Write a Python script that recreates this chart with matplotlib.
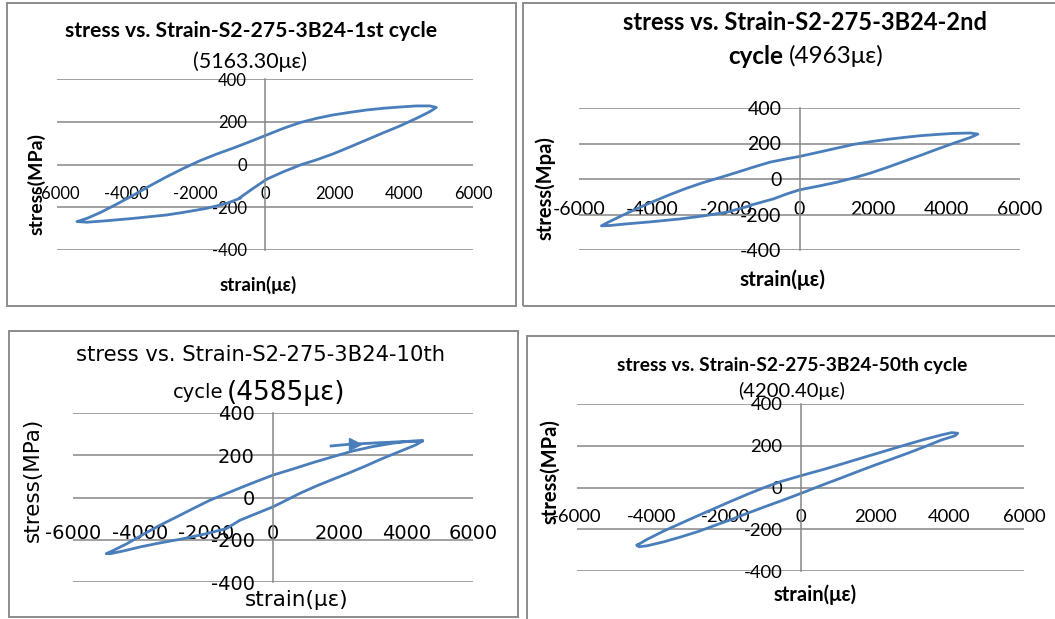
import matplotlib
matplotlib.use("Agg")
import matplotlib.pyplot as plt
from matplotlib.patches import Rectangle

plt.rcParams["axes.unicode_minus"] = False

x_ticks = [-6000, -4000, -2000, 0, 2000, 4000, 6000]
y_ticks = [-400, -200, 0, 200, 400]

# 1st cycle
strain_1 = [-720, -1104, -1680, -2352, -2832, -3792, -4560, -5136, -5424, -5136, -4752, -4272,
            -3792, -3312, -2832, -2352, -1872, -1392, -912, -432, 48, 528, 1008, 1488, 1968,
            2448, 2928, 3408, 3888, 4368, 4752, 4944, 4752, 4368, 3888, 3408, 2928, 2448,
            1968, 1488, 1056, 528, 48, -336, -720]
stress_1 = [-158, -182, -205, -224, -236, -252, -263, -270, -267, -252, -225, -185,
            -143, -99, -57, -18, 18, 49, 77, 107, 138, 169, 196, 216, 232,
            244, 255, 263, 269, 274, 274, 267, 247, 216, 180, 148, 115, 82,
            50, 22, 0, -34, -69, -111, -155]

# 2nd cycle
strain_2 = [-1345, -1982, -2618, -3254, -3981, -4709, -5163, -5390, -5209, -4890, -4436, -3981,
            -3527, -3072, -2618, -2164, -1709, -1254, -800, -345, 0, 564, 1018, 1473, 1927,
            2382, 2836, 3291, 3745, 4200, 4654, 4854, 4654, 4200, 3745, 3291, 2836, 2382,
            1927, 1473, 1018, 564, 0, -345, -709, -1073, -1345]
stress_2 = [-151, -187, -208, -225, -240, -253, -262, -264, -244, -212, -168, -127,
            -88, -52, -20, 8, 37, 67, 95, 114, 127, 153, 174, 195, 210,
            223, 234, 244, 251, 257, 259, 253, 234, 202, 168, 133, 99, 65,
            33, 6, -18, -38, -61, -84, -112, -133, -148]

# 10th cycle (starts with a short stroke carrying an arrow head)
strain_3 = [1744, 2292, 3289, 4087, 4485, 4286, 3788, 3289, 2791, 2292, 1794, 1296, 797,
            299, 0, -498, -997, -1395, -1993, -2691, -3389, -3987, -4485, -4884, -5003,
            -4784, -4385, -3887, -3389, -2891, -2392, -1894, -1395, -897, -399, 0, 598,
            1196, 1794, 2392, 2990, 3588, 4087, 4485]
stress_3 = [244, 252, 260, 266, 268, 249, 217, 185, 150, 117, 86, 54, 19,
            -21, -44, -76, -108, -147, -171, -195, -215, -234, -253, -266, -266,
            -250, -219, -174, -131, -92, -52, -13, 19, 51, 82, 106, 135,
            165, 193, 220, 241, 257, 266, 268]
arrow_strain = [2450]
arrow_stress = [254]

# 50th cycle
strain_4 = [-4383, -4114, -3665, -3216, -2766, -2317, -1868, -1419, -970, -521, 0, 647,
            1096, 1545, 1994, 2443, 2892, 3341, 3790, 4060, 4222, 4150, 3790, 3341, 2892,
            2443, 1994, 1545, 1096, 647, 0, -521, -970, -1419, -1868, -2317, -2766, -3216,
            -3665, -4114, -4338, -4383]
stress_4 = [-276, -248, -208, -172, -136, -101, -66, -32, 0, 29, 56, 88,
            112, 136, 160, 184, 208, 231, 252, 263, 260, 248, 228, 196, 165,
            136, 107, 77, 46, 16, -29, -64, -93, -123, -154, -183, -212, -237,
            -260, -279, -284, -276]

blue = "#4a7ebb"
grid_c = "#868686"
frame_c = "#8c8c8c"

W, H = 1055, 619
fig = plt.figure(figsize=(W / 100, H / 100), dpi=100)


def ftext(x, y, s, **kw):
    # place text using pixel coords measured from top-left
    fig.text(x / W, 1 - y / H, s, **kw)


def border(l, r, t, b):
    fig.add_artist(Rectangle((l / W, 1 - b / H), (r - l) / W, (b - t) / H,
                             transform=fig.transFigure, fill=False,
                             ec=frame_c, lw=1.4))


def loop_axes(l, r, t, b, strain, stress, font, tsize, xpad):
    ax = fig.add_axes([l / W, 1 - b / H, (r - l) / W, (b - t) / H])
    ax.patch.set_alpha(0)
    ax.plot(strain, stress, color=blue, lw=2, solid_joinstyle="round")
    ax.set_xlim(-6000, 6000)
    ax.set_ylim(-400, 400)
    ax.set_xticks(x_ticks)
    ax.set_yticks(y_ticks)
    ax.yaxis.grid(True, color=grid_c, lw=1.1)
    ax.set_axisbelow(True)
    for s in ["top", "right"]:
        ax.spines[s].set_visible(False)
    ax.spines["left"].set_position("zero")
    ax.spines["left"].set_color(grid_c)
    ax.spines["left"].set_linewidth(1.1)
    ax.spines["bottom"].set_position("zero")
    ax.spines["bottom"].set_visible(False)
    ax.tick_params(axis="x", length=0, pad=xpad, labelsize=tsize, labelfontfamily=font)
    ax.tick_params(axis="y", length=0, pad=13, labelsize=tsize, labelfontfamily=font)
    return ax


# borders of the four chart boxes
border(7, 516, 3, 306)
border(523, 1070, 3, 306)
border(9, 518, 331, 617)
border(527, 1070, 336, 640)

f1 = "Lato"
f3 = "DejaVu Sans"

# 1st cycle
loop_axes(57, 473, 79, 250, strain_1, stress_1, f1, 12, 15.5)
ftext(251, 31, "stress vs. Strain-S2-275-3B24-1st cycle", family=f1, weight="bold",
      size=15.2, ha="center", va="center")
ftext(250, 62, "(5163.30\u03bc\u03b5)", family=f1, size=15.5, ha="center", va="center")
ftext(37, 184, "stress(MPa)", family=f1, weight="bold", size=14, rotation=90,
      ha="center", va="center")
ftext(258, 285, "strain(\u03bc\u03b5)", family=f1, weight="bold", size=13.5,
      ha="center", va="center")

# 2nd cycle
loop_axes(579, 1020, 108, 250, strain_2, stress_2, f1, 14, 15.5)
ftext(805, 23, "stress vs. Strain-S2-275-3B24-2nd", family=f1, weight="bold",
      size=17, ha="center", va="center")
ftext(783, 56, "cycle", family=f1, weight="bold", size=17.5, ha="right", va="center")
ftext(789, 56, "(4963\u03bc\u03b5)", family=f1, size=17.5, ha="left", va="center")
ftext(545, 188, "stress(Mpa)", family=f1, weight="bold", size=14.5, rotation=90,
      ha="center", va="center")
ftext(782, 280, "strain(\u03bc\u03b5)", family=f1, weight="bold", size=15,
      ha="center", va="center")

# 10th cycle
ax3 = loop_axes(73, 473, 413, 582, strain_3, stress_3, f3, 14, 19)
ax3.plot(arrow_strain, arrow_stress, ls="none", marker=">", ms=9, color=blue)
ftext(260, 355, "stress vs. Strain-S2-275-3B24-10th", family=f3, size=15.2,
      ha="center", va="center")
ftext(223, 393, "cycle", family=f3, size=14, ha="right", va="center")
ftext(227, 393, "(4585\u03bc\u03b5)", family=f3, size=19, ha="left", va="center")
ftext(33, 480, "stress(MPa)", family=f3, size=15.5, rotation=90, ha="center", va="center")
ftext(297, 600, "strain(\u03bc\u03b5)", family=f3, size=15.5, ha="center", va="center")

# 50th cycle
loop_axes(577, 1024, 404, 571, strain_4, stress_4, f1, 13.3, 15.5)
ftext(792, 366, "stress vs. Strain-S2-275-3B24-50th cycle", family=f1, weight="bold",
      size=13.8, ha="center", va="center")
ftext(792, 391, "(4200.40\u03bc\u03b5)", family=f1, size=14.5, ha="center", va="center")
ftext(550, 472, "stress(MPa)", family=f1, weight="bold", size=14.5, rotation=90,
      ha="center", va="center")
ftext(815, 595, "strain(\u03bc\u03b5)", family=f1, weight="bold", size=14.5,
      ha="center", va="center")

fig.savefig("out.png", dpi=100, facecolor="white")
